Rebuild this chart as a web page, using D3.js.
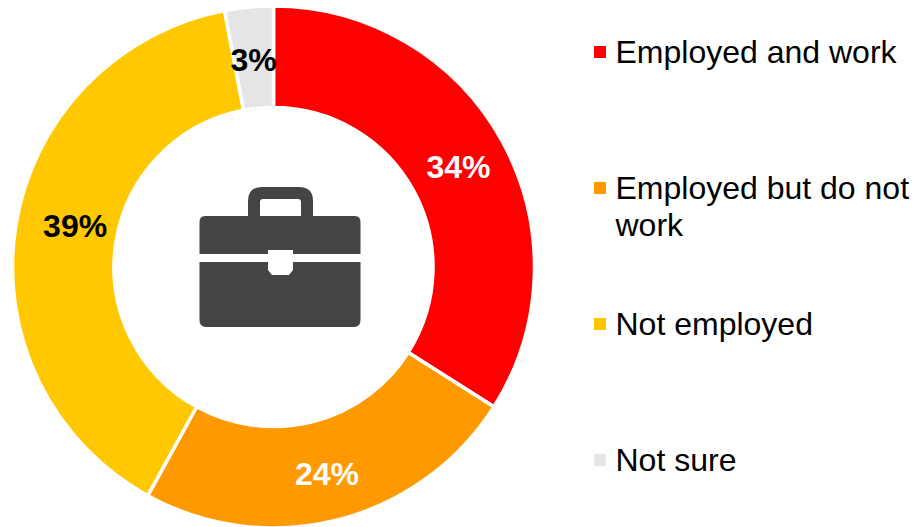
<!DOCTYPE html>
<html>
<head>
<meta charset="utf-8">
<script src="https://cdn.jsdelivr.net/npm/d3@7/dist/d3.min.js"></script>
<style>
html,body{margin:0;padding:0;background:#fff;}
svg{display:block;}
text{font-family:"Liberation Sans",Arial,sans-serif;}
</style>
</head>
<body>
<svg id="chart" width="916" height="527"></svg>
<script>
const categories = ["Employed and work", "Employed but do not work", "Not employed", "Not sure"];
const values = [34, 24, 39, 3];
const colors = ["#ff0000", "#ff9900", "#ffc800", "#e5e5e5"];
const labelColors = ["#ffffff", "#ffffff", "#000000", "#000000"];
const legendLines = [["Employed and work"], ["Employed but do not", "work"], ["Not employed"], ["Not sure"]];
const legendRows = [52, 188, 324, 460];
// Hand placement of the percentage labels relative to their slice centres
const labelShiftX = [0, 1, 10, 0];
const labelShiftY = [1, 2, -8, 3];

const svg = d3.select("#chart");
const cx = 273.5, cy = 267, outerR = 261, innerR = 159.5;

const pie = d3.pie().sort(null).value(d => d);
const arc = d3.arc().innerRadius(innerR).outerRadius(outerR);
const labelArc = d3.arc().innerRadius(211).outerRadius(211);

const ring = svg.append("g").attr("transform", `translate(${cx},${cy})`);
const arcs = pie(values);

ring.selectAll("path").data(arcs).join("path")
  .attr("d", arc)
  .attr("fill", (d, i) => colors[i])
  .attr("stroke", "#ffffff")
  .attr("stroke-width", 3.5);

ring.selectAll("text").data(arcs).join("text")
  .attr("transform", (d, i) => {
    const [x, y] = labelArc.centroid(d);
    return `translate(${x + labelShiftX[i]},${y + labelShiftY[i]})`;
  })
  .attr("text-anchor", "middle")
  .attr("dy", "0.35em")
  .attr("font-size", 32)
  .attr("font-weight", "bold")
  .attr("fill", (d, i) => labelColors[i])
  .text(d => d.value + "%");

// Briefcase glyph in the middle of the ring
const icon = svg.append("g").attr("fill", "#444444");
icon.append("path").attr("fill-rule", "evenodd").attr("d",
  "M248 216V201Q248 187 262 187H299Q313 187 313 201V216H301V202Q301 199 298 199H263Q260 199 260 202V216Z");
icon.append("path").attr("d",
  "M205 216H355Q360.5 216 360.5 222V254H293V250H268V254H199.5V222Q199.5 216 205 216Z");
icon.append("path").attr("d",
  "M199.5 262H268V270L272 275H289L293 270V262H360.5V320Q360.5 327 354 327H206Q199.5 327 199.5 320Z");

// Legend
const legend = svg.append("g").selectAll("g").data(categories).join("g")
  .attr("transform", (d, i) => `translate(594,${legendRows[i]})`);

legend.append("rect")
  .attr("x", 0).attr("y", -6)
  .attr("width", 12).attr("height", 12)
  .attr("fill", (d, i) => colors[i]);

legend.each(function (d, i) {
  d3.select(this).selectAll("text").data(legendLines[i]).join("text")
    .attr("x", 21.5)
    .attr("y", (t, j) => 11 + j * 37)
    .attr("font-size", 32)
    .attr("fill", "#000000")
    .text(t => t);
});
</script>
</body>
</html>
